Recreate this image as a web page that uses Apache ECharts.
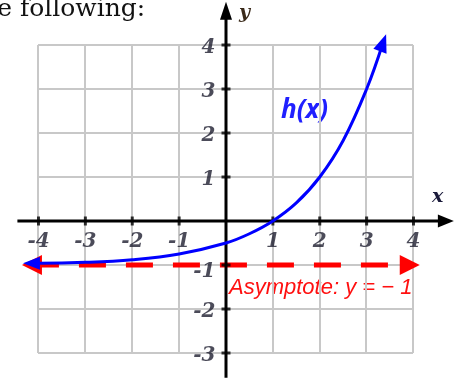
<!DOCTYPE html>
<html><head><meta charset="utf-8">
<script src="https://cdn.jsdelivr.net/npm/echarts@6/dist/echarts.min.js"></script>
<style>html,body{margin:0;padding:0;background:#fff;overflow:hidden}#c{width:460px;height:378px}</style>
</head><body><div id="c"></div>
<script>
// values
const xTicks = [-4, -3, -2, -1, 1, 2, 3, 4];
const yTicks = [-3, -2, -1, 1, 2, 3, 4];
const curveX = [-4.15, -4, -3, -2, -1, 0, 0.5, 1, 1.5, 2, 2.5, 3, 3.35];
const curveY = [-0.96, -0.96, -0.94, -0.88, -0.75, -0.5, -0.29, 0, 0.41, 1, 1.83, 3, 4.05];
const asymptoteY = -1;
const asymptoteX = [-4.14, 3.92];
const xAxisExtent = [-4.45, 4.69];
const yAxisExtent = [-3.56, 4.78];
// visible data window of the whole drawing area (x: -4..4 grid spans 38..413 px; y: -3..4 spans 353..45 px)
const fullX = [-4.82133, 4.992];
const fullY = [-3.56818, 5.02273];

const labelFont = { fontFamily: 'DejaVu Serif', fontStyle: 'italic', fontWeight: 'bold', fontSize: 20, color: '#1e1e30' };

const curveData = curveX.map((x, i) => {
  const item = { value: [x, curveY[i]] };
  if (i === 0) { item.symbol = 'triangle'; item.symbolSize = [13, 17]; item.symbolRotate = 90; }
  else if (i === curveX.length - 1) { item.symbol = 'triangle'; item.symbolSize = [14, 18]; item.symbolRotate = -20; }
  return item;
});

const hidden = { axisLine: { show: false }, axisTick: { show: false }, axisLabel: { show: false } };

const chart = echarts.init(document.getElementById('c'), null, { renderer: 'canvas' });
chart.setOption({
  animation: false,
  grid: [
    { left: 38, top: 45, width: 375, height: 308, containLabel: false, outerBoundsMode: 'none' },
    { left: 0, top: 0, width: 460, height: 378, containLabel: false, outerBoundsMode: 'none' }
  ],
  xAxis: [
    Object.assign({ type: 'value', gridIndex: 0, min: -4, max: 4, interval: 1,
      splitLine: { show: true, lineStyle: { color: '#c8c8c8', width: 2 } } }, hidden),
    Object.assign({ type: 'value', gridIndex: 1, min: fullX[0], max: fullX[1], splitLine: { show: false } }, hidden)
  ],
  yAxis: [
    Object.assign({ type: 'value', gridIndex: 0, min: -3, max: 4, interval: 1,
      splitLine: { show: true, lineStyle: { color: '#c8c8c8', width: 2 } } }, hidden),
    Object.assign({ type: 'value', gridIndex: 1, min: fullY[0], max: fullY[1], splitLine: { show: false } }, hidden)
  ],
  series: [
    {
      type: 'line', xAxisIndex: 1, yAxisIndex: 1, z: 3, silent: true,
      data: [
        { value: [asymptoteX[0], asymptoteY], symbol: 'triangle', symbolSize: [20, 20], symbolRotate: 90 },
        { value: [asymptoteX[1], asymptoteY], symbol: 'triangle', symbolSize: [20, 20], symbolRotate: -90 }
      ],
      itemStyle: { color: '#ff0000' },
      lineStyle: { color: '#ff0000', width: 5, type: [27, 20] }
    },
    {
      type: 'line', xAxisIndex: 1, yAxisIndex: 1, z: 4, silent: true, symbol: 'none',
      data: [
        { value: [xAxisExtent[0], 0] },
        { value: [xAxisExtent[1], 0], symbol: 'triangle', symbolSize: [13, 16], symbolRotate: -90 }
      ],
      itemStyle: { color: '#000' },
      lineStyle: { color: '#000', width: 3 }
    },
    {
      type: 'line', xAxisIndex: 1, yAxisIndex: 1, z: 4, silent: true, symbol: 'none',
      data: [
        { value: [0, yAxisExtent[0]] },
        { value: [0, yAxisExtent[1]], symbol: 'triangle', symbolSize: [12, 18], symbolRotate: 0 }
      ],
      itemStyle: { color: '#000' },
      lineStyle: { color: '#000', width: 3 }
    },
    {
      type: 'scatter', xAxisIndex: 1, yAxisIndex: 1, z: 5, silent: true, symbol: 'rect',
      data: xTicks.map(v => ({ value: [v, 0], symbolSize: [3, 9] })),
      itemStyle: { color: '#000' },
      label: Object.assign({ show: true, position: 'bottom', distance: 6, formatter: p => String(p.value[0]) }, labelFont)
    },
    {
      type: 'scatter', xAxisIndex: 1, yAxisIndex: 1, z: 5, silent: true, symbol: 'rect',
      data: yTicks.map(v => ({ value: [0, v], symbolSize: [9, 3], label: { offset: [0, v === -1 ? 7 : 3] } })),
      itemStyle: { color: '#000' },
      label: Object.assign({ show: true, position: 'left', distance: 6, formatter: p => String(p.value[1]) }, labelFont)
    },
    {
      type: 'line', xAxisIndex: 1, yAxisIndex: 1, z: 6, silent: true, smooth: 0.4,
      symbol: 'none', showSymbol: true,
      data: curveData,
      itemStyle: { color: '#0000ff' },
      lineStyle: { color: '#0000ff', width: 3 }
    }
  ],
  graphic: [
    { type: 'text', left: -29, top: -3, style: { text: 'the following:', font: '25px "DejaVu Serif"', fill: '#111' } },
    { type: 'text', left: 239, top: 4, style: { text: 'y', font: 'italic bold 19px "DejaVu Serif"', fill: '#3a2a1a' } },
    { type: 'text', left: 432, top: 188, style: { text: 'x', font: 'italic bold 19px "DejaVu Serif"', fill: '#1a1a3a' } },
    { type: 'text', left: 281, top: 98, style: { text: 'h(x)', font: 'italic bold 26px "Open Sans"', fill: '#2020ff' } },
    { type: 'text', left: 229, top: 277, style: { text: 'Asymptote: y = \u2212 1', font: 'italic 22px "Liberation Sans"', fill: '#ff1010' } }
  ]
});
</script>
</body></html>
